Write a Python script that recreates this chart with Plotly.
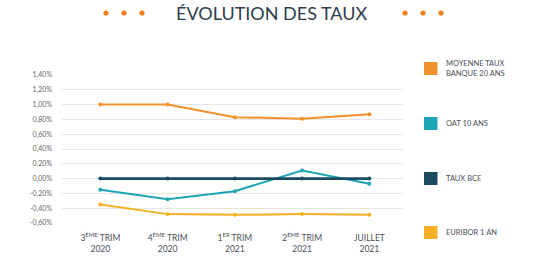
import plotly.graph_objects as go

categories = ["3<sup>ÈME</sup> TRIM<br>2020", "4<sup>ÈME</sup> TRIM<br>2020",
              "1<sup>ER</sup> TRIM<br>2021", "2<sup>ÈME</sup> TRIM<br>2021", "JUILLET<br>2021"]
series_names = ["MOYENNE TAUX<br>BANQUE 20 ANS", "OAT 10 ANS", "TAUX BCE", "EURIBOR 1 AN"]
moyenne = [1.00, 1.00, 0.83, 0.81, 0.87]
oat = [-0.15, -0.28, -0.17, 0.11, -0.07]
bce = [0.00, 0.00, 0.00, 0.00, 0.00]
euribor = [-0.35, -0.48, -0.49, -0.48, -0.49]
colors = ["#F0922B", "#1DA5B5", "#1B4A63", "#F6B026"]
y_ticks = [-0.6, -0.4, -0.2, 0.0, 0.2, 0.4, 0.6, 0.8, 1.0, 1.2, 1.4]
y_ticktext = ["-0,60%", "-0,40%", "-0,20%", "0,00%", "0,20%", "0,40%", "0,60%",
              "0,80%", "1,00%", "1,20%", "1,40%"]

W, H = 551, 267
L, R, T, B = 62, 403, 75, 223

def px(x):
    return (x - L) / (R - L)

def py(y):
    return (B - y) / (B - T)

fig = go.Figure()
xs = list(range(len(categories)))
for name, vals, col, w in zip(series_names, [moyenne, oat, bce, euribor], colors, [2, 2, 2.6, 2]):
    fig.add_trace(go.Scatter(x=xs, y=vals, mode="lines+markers", name=name,
                             line=dict(color=col, width=w),
                             marker=dict(color=col, size=4), showlegend=False))

shapes = []
annotations = []
# legend
leg_y = [68.5, 123.5, 178.5, 232.5]
for name, col, yc in zip(series_names, colors, leg_y):
    shapes.append(dict(type="rect", xref="paper", yref="paper",
                       x0=px(424), x1=px(437.5), y0=py(yc - 6.5), y1=py(yc + 6.5),
                       fillcolor=col, line=dict(width=0)))
    annotations.append(dict(xref="paper", yref="paper", x=px(444), y=py(yc),
                            text=name, showarrow=False, xanchor="left", yanchor="middle",
                            align="left", font=dict(size=7.5, color="#4a4f57",
                                                    family="Lato")))
# title
annotations.append(dict(xref="paper", yref="paper", x=px(271), y=py(13.5),
                        text="ÉVOLUTION DES TAUX", showarrow=False,
                        xanchor="center", yanchor="middle",
                        font=dict(size=18, color="#2E3D4C", family="Lato")))
for cx in [106, 124, 142, 405, 423, 441]:
    shapes.append(dict(type="circle", xref="paper", yref="paper",
                       x0=px(cx - 2.6), x1=px(cx + 2.6), y0=py(13 - 2.6), y1=py(13 + 2.6),
                       fillcolor="#EE7F1B", line=dict(width=0)))

fig.update_layout(
    width=W, height=H,
    margin=dict(l=L, r=W - R, t=T, b=H - B),
    paper_bgcolor="white", plot_bgcolor="white",
    shapes=shapes, annotations=annotations,
    xaxis=dict(tickmode="array", tickvals=xs, ticktext=categories,
               range=[-0.57, 4.5], showgrid=False, zeroline=False, showline=False,
               ticks="", ticklabelstandoff=8,
               tickfont=dict(size=8.5, color="#4a4f57", family="Lato")),
    yaxis=dict(tickmode="array", tickvals=y_ticks, ticktext=y_ticktext,
               range=[-0.6, 1.4], showgrid=True, gridcolor="#E6E6E6", gridwidth=1,
               zeroline=False, showline=False, ticks="", ticklabelstandoff=9,
               tickfont=dict(size=7, color="#666", family="Lato")),
)
fig.write_html("out.html")
